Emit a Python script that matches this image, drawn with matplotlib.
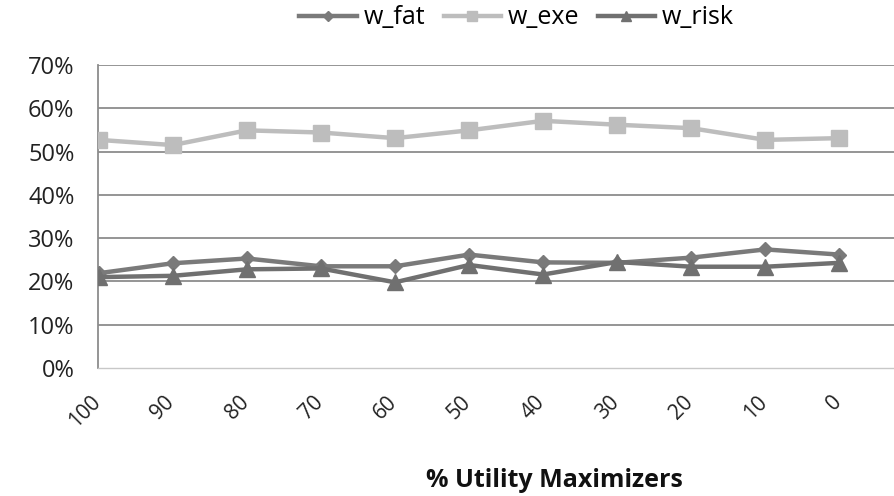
import matplotlib
matplotlib.use("Agg")
import matplotlib.pyplot as plt
import matplotlib.transforms as mtransforms
from matplotlib.ticker import FuncFormatter

categories = ["100", "90", "80", "70", "60", "50", "40", "30", "20", "10", "0"]
w_fat = [21.9, 24.2, 25.3, 23.5, 23.5, 26.2, 24.4, 24.3, 25.5, 27.4, 26.2]
w_exe = [52.7, 51.5, 54.9, 54.4, 53.1, 54.9, 57.1, 56.2, 55.4, 52.7, 53.1]
w_risk = [21.0, 21.3, 22.8, 23.0, 19.8, 23.8, 21.6, 24.5, 23.4, 23.4, 24.3]
yticks = [0, 10, 20, 30, 40, 50, 60, 70]

plt.rcParams['font.family'] = ['Open Sans', 'DejaVu Sans']

fig = plt.figure(figsize=(8.95, 4.96), dpi=100)
ax = fig.add_axes([0.1095, 0.258, 0.8905, 0.611])

x = list(range(len(categories)))
ax.plot(x, w_fat, color="#7a7a7a", lw=3.2, marker="D", ms=7, label="w_fat", zorder=3)
ax.plot(x, w_exe, color="#bdbdbd", lw=3.2, marker="s", ms=11, label="w_exe", zorder=3)
ax.plot(x, w_risk, color="#707070", lw=3.2, marker="^", ms=11, label="w_risk", zorder=3)

ax.set_ylim(0, 70)
ax.set_xlim(-0.01, 10.75)
ax.set_yticks(yticks)
ax.yaxis.set_major_formatter(FuncFormatter(lambda v, p: f"{int(v)}%"))
for t in yticks[1:]:
    ax.axhline(t, color="#8c8c8c", lw=1.3, zorder=1)
ax.set_xticks(x)
ax.set_xticklabels(categories, rotation=45, ha="right", va="top")
ax.tick_params(axis="x", length=0, pad=17, labelsize=15, colors="#222222")
ax.tick_params(axis="y", length=0, pad=17, labelsize=17, colors="#222222")
offset = mtransforms.ScaledTranslation(6 / 100, 0, fig.dpi_scale_trans)
for lbl in ax.get_xticklabels():
    lbl.set_transform(lbl.get_transform() + offset)
for s in ["top", "right"]:
    ax.spines[s].set_visible(False)
ax.spines["left"].set_color("#8c8c8c")
ax.spines["left"].set_linewidth(1.3)
ax.spines["bottom"].set_color("#c8c8c8")
ax.spines["bottom"].set_linewidth(1.0)

fig.text(0.62, 0.032, "% Utility Maximizers", ha="center", va="center",
         fontsize=18, fontweight="bold", color="#111111")

fig.legend(loc="center", bbox_to_anchor=(0.577, 0.964), ncol=3, frameon=False,
           fontsize=18, handlelength=2.3, columnspacing=0.75, handletextpad=0.25,
           markerscale=0.7)

fig.savefig("out.png", dpi=100)
